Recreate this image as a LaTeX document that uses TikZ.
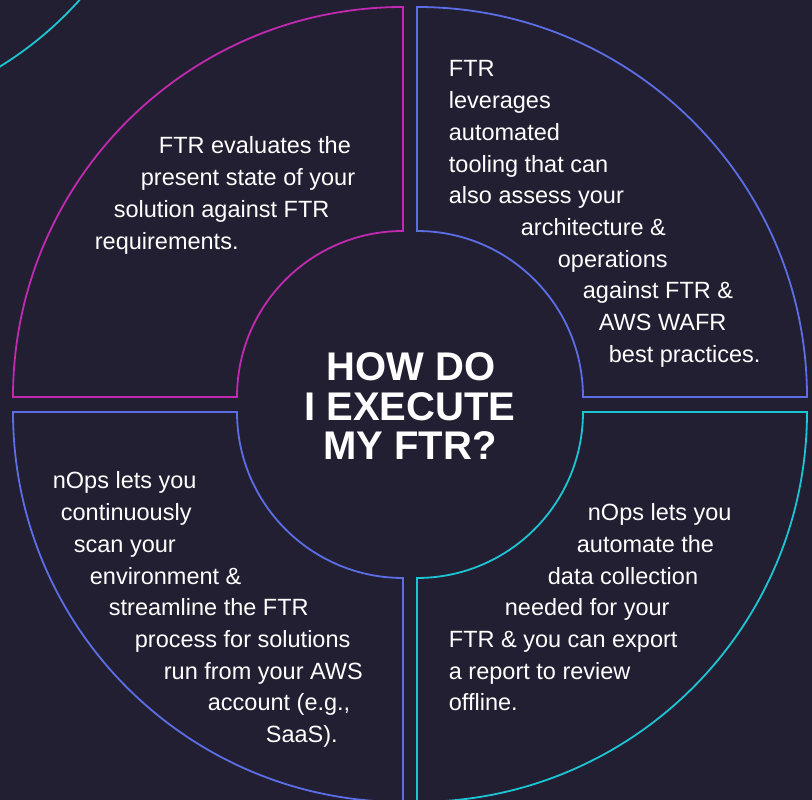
\documentclass[tikz,border=0pt]{standalone}
\usepackage{fontspec}
\setmainfont{Liberation Sans}

\definecolor{bgdark}{HTML}{231F32}
\definecolor{ftrmagenta}{HTML}{C12AB0}
\definecolor{ftrblue}{HTML}{5B6EE6}
\definecolor{ftrcyan}{HTML}{1BC5D4}

\begin{document}
\begin{tikzpicture}[x=1pt,y=1pt,
    line width=1.8pt,
    txt/.style={anchor=base west,inner sep=0pt,text=white,font=\fontsize{23.5}{28}\selectfont},
    ttl/.style={anchor=base,inner sep=0pt,text=white,font=\bfseries\fontsize{40}{40}\selectfont}]
                \fill[bgdark] (0,0) rectangle (812,800);
                \useasboundingbox (0,0) rectangle (812,800);
                \clip (0,0) rectangle (812,800);

                \draw[ftrcyan] (-187.5,1038.5) circle (358);

                \draw[ftrmagenta] (13,403) arc (180:90:390) -- (403,569) arc (90:180:166) -- cycle;
                \draw[ftrblue] (417,793) arc (90:0:390) -- (583,403) arc (0:90:166) -- cycle;
                \draw[ftrblue] (13,388) arc (180:270:390) -- (403,222) arc (270:180:166) -- cycle;
                \draw[ftrcyan] (807,388) arc (0:-90:390) -- (417,222) arc (-90:0:166) -- cycle;

                \node[ttl] (t1) at (411,419) {HOW DO};
                \node[ttl] (t2) at (410,379) {I EXECUTE};
                \node[ttl] (t3) at (410,340) {MY FTR?};

                \node[txt] (ev1) at (158,646) {FTR evaluates the};
                \node[txt] (ev2) at (140,614.3) {present state of your};
                \node[txt] (ev3) at (113,582.6) {solution against FTR};
                \node[txt] (ev4) at (94,550.9) {requirements.};

                \node[txt] (lev1) at (448,723) {FTR};
                \node[txt] (lev2) at (448,691.3) {leverages};
                \node[txt] (lev3) at (448,659.6) {automated};
                \node[txt] (lev4) at (448,627.9) {tooling that can};
                \node[txt] (lev5) at (448,596.2) {also assess your};
                \node[txt] (lev6) at (520,564.5) {architecture \&};
                \node[txt] (lev7) at (557,532.8) {operations};
                \node[txt] (lev8) at (582,501.1) {against FTR \&};
                \node[txt] (lev9) at (598,469.4) {AWS WAFR};
                \node[txt] (lev10) at (608,437.7) {best practices.};

                \node[txt] (scan1) at (52,311) {nOps lets you};
                \node[txt] (scan2) at (60,279.3) {continuously};
                \node[txt] (scan3) at (73,247.6) {scan your};
                \node[txt] (scan4) at (89,215.9) {environment \&};
                \node[txt] (scan5) at (108,184.2) {streamline the FTR};
                \node[txt] (scan6) at (134,152.5) {process for solutions};
                \node[txt] (scan7) at (163,120.8) {run from your AWS};
                \node[txt] (scan8) at (207,89.1) {account (e.g.,};
                \node[txt] (scan9) at (265,57.4) {SaaS).};

                \node[txt] (auto1) at (587,279.3) {nOps lets you};
                \node[txt] (auto2) at (576,247.6) {automate the};
                \node[txt] (auto3) at (547,215.9) {data collection};
                \node[txt] (auto4) at (504,184.2) {needed for your};
                \node[txt] (auto5) at (448,152.5) {FTR \& you can export};
                \node[txt] (auto6) at (448,120.8) {a report to review};
                \node[txt] (auto7) at (448,89.1) {offline.};
            \end{tikzpicture}
\end{document}
